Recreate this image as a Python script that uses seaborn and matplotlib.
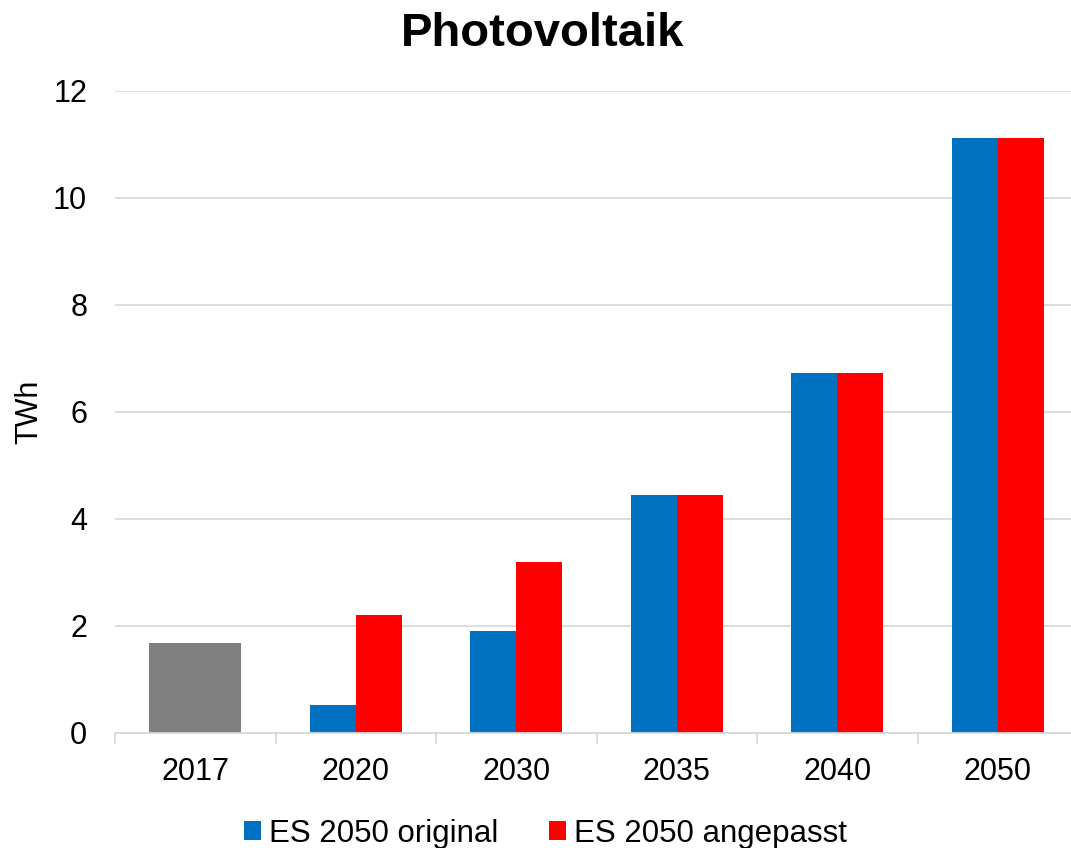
import matplotlib
matplotlib.use("Agg")
import matplotlib.pyplot as plt
from matplotlib.patches import Patch
from matplotlib.ticker import FixedLocator
import seaborn as sns
import pandas as pd

# Categories and values (TWh)
years = ["2017", "2020", "2030", "2035", "2040", "2050"]
actual_year = ["2017"]
actual_value = [1.68]
scenario_years = ["2020", "2030", "2035", "2040", "2050"]
es_original = [0.52, 1.91, 4.44, 6.73, 11.11]
es_angepasst = [2.20, 3.19, 4.44, 6.73, 11.11]
series_names = ["ES 2050 original", "ES 2050 angepasst"]
y_ticks = [0, 2, 4, 6, 8, 10, 12]

colors = {"ES 2050 original": "#0070C0", "ES 2050 angepasst": "#FF0000"}
gray = "#808080"

df = pd.DataFrame({
    "Jahr": scenario_years * 2,
    "TWh": es_original + es_angepasst,
    "Szenario": [series_names[0]] * len(scenario_years) + [series_names[1]] * len(scenario_years),
})
df_actual = pd.DataFrame({"Jahr": actual_year, "TWh": actual_value})

sns.set_theme(style="white")
plt.rcParams["font.family"] = ["Liberation Sans", "DejaVu Sans"]
plt.rcParams["text.color"] = "black"

fig = plt.figure(figsize=(10.71, 8.48), dpi=100)
ax = fig.add_axes([115 / 1071, 1 - 733 / 848, 963 / 1071, (733 - 90.5) / 848])

bar_width = 0.573
sns.barplot(data=df_actual, x="Jahr", y="TWh", order=years, color=gray,
            saturation=1, width=bar_width, linewidth=0, ax=ax, errorbar=None)
sns.barplot(data=df, x="Jahr", y="TWh", hue="Szenario", order=years,
            hue_order=series_names, palette=colors, saturation=1,
            width=bar_width, linewidth=0, ax=ax, errorbar=None, legend=False)

ax.set_xlim(-0.5, len(years) - 0.5)
ax.set_ylim(0, 12)
ax.set_yticks(y_ticks)
ax.set_yticklabels([str(t) for t in y_ticks])
ax.set_xlabel("")
ax.set_ylabel("TWh", fontsize=22, color="black")
ax.yaxis.set_label_coords(-0.073, 0.5)

ax.grid(axis="y", color="#D9D9D9", linewidth=1.3)
ax.set_axisbelow(True)
for side in ["left", "right", "top"]:
    ax.spines[side].set_visible(False)
ax.spines["bottom"].set_color("#D9D9D9")
ax.spines["bottom"].set_linewidth(1.3)

# Tick marks at the category boundaries, labels centred in each category
ax.xaxis.set_minor_locator(FixedLocator([i - 0.5 for i in range(len(years) + 1)]))
ax.tick_params(axis="x", which="minor", bottom=True, length=8, width=1.3, color="#D9D9D9")
ax.tick_params(axis="x", which="major", bottom=True, length=0, pad=17,
               labelsize=22, labelcolor="black")
ax.tick_params(axis="y", length=0, pad=20, labelsize=22, labelcolor="black")

fig.text(0.5066, 1 - 45.5 / 848, "Photovoltaik", fontsize=34, fontweight="bold",
         ha="center", va="baseline", color="black")

handles = [Patch(facecolor=colors[n], edgecolor="none", label=n) for n in series_names]
fig.legend(handles=handles, loc="center", bbox_to_anchor=(0.5093, 0.017), ncol=2,
           frameon=False, fontsize=22.5, handlelength=0.54, handleheight=0.54,
           handletextpad=0.26, columnspacing=1.6, labelcolor="black")

fig.savefig("out.png", dpi=100)
